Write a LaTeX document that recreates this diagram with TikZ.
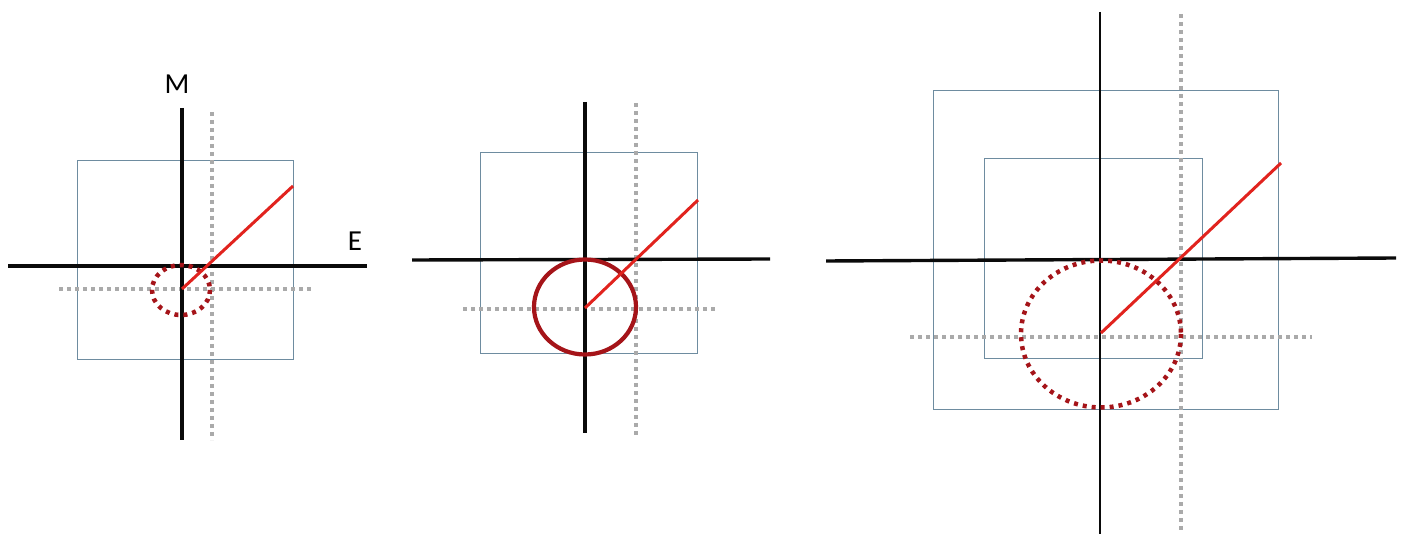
\documentclass[tikz,border=0pt]{standalone}
\usepackage{fontspec}
\setmainfont{Carlito}
\usepackage{tikz}
\usetikzlibrary{positioning}
\definecolor{axisblack}{RGB}{10, 10, 10}
\definecolor{boxblue}{RGB}{110, 140, 160}
\definecolor{guidegray}{RGB}{170, 170, 170}
\definecolor{vecred}{RGB}{225, 35, 30}
\definecolor{ringred}{RGB}{165, 20, 25}

\tikzset{
    axisline/.style={draw=axisblack, line width=3.4pt},
    framebox/.style={draw=boxblue, line width=0.8pt},
    guideline/.style={draw=guidegray, line width=3.8pt, dash pattern=on 4pt off 4pt},
    vecline/.style={draw=vecred, line width=3pt},
    ringdot/.style={draw=ringred, line width=4.5pt, dash pattern=on 4pt off 5pt},
    ringsolid/.style={draw=ringred, line width=4.2pt},
    axislabel/.style={font=\fontsize{29}{31}\selectfont, inner sep=0pt}
}

\begin{document}
\begin{tikzpicture}[x=1pt, y=-1pt]
    \useasboundingbox (0,0) rectangle (1414,534);

    % panel 1
    \coordinate (c1) at (181,290);
    \draw[framebox] (77,160) rectangle (293,359);
    \draw[guideline] (212,112) -- (212,440);
    \draw[guideline] (59,289) -- (313,289);
    \draw[axisline] (182,108) -- (182,440);
    \draw[axisline] (8,266) -- (367,266);
    \node[axislabel] (mlabel) at (177,84) {M};
    \node[axislabel] (elabel) at (355,241) {E};
    \draw[ringdot] (c1) ellipse [x radius=29, y radius=25];
    \draw[vecline] (182,289) -- (293,186);

    % panel 2
    \coordinate (c2) at (585,307);
    \draw[framebox] (480,152) rectangle (697,353);
    \draw[guideline] (636,103) -- (636,435);
    \draw[guideline] (463,309) -- (718,309);
    \draw[axisline] (585,102) -- (585,433);
    \draw[axisline] (412,260) -- (770,259);
    \draw[ringsolid] (c2) ellipse [x radius=51, y radius=47.5];
    \draw[vecline] (585,308) -- (698,200);

    % panel 3
    \coordinate (c3) at (1101,334);
    \draw[framebox] (933,90) rectangle (1278,409);
    \draw[framebox] (984,158) rectangle (1202,358);
    \draw[guideline] (1181,14) -- (1181,534);
    \draw[guideline] (910,337) -- (1312,337);
    \draw[axisline, line width=2.8pt] (1100,12) -- (1100,534);
    \draw[axisline] (826,261) -- (1396,258);
    \draw[ringdot] (c3) ellipse [x radius=80, y radius=73.5];
    \draw[vecline] (1101,333) -- (1281,163);
\end{tikzpicture}
\end{document}
